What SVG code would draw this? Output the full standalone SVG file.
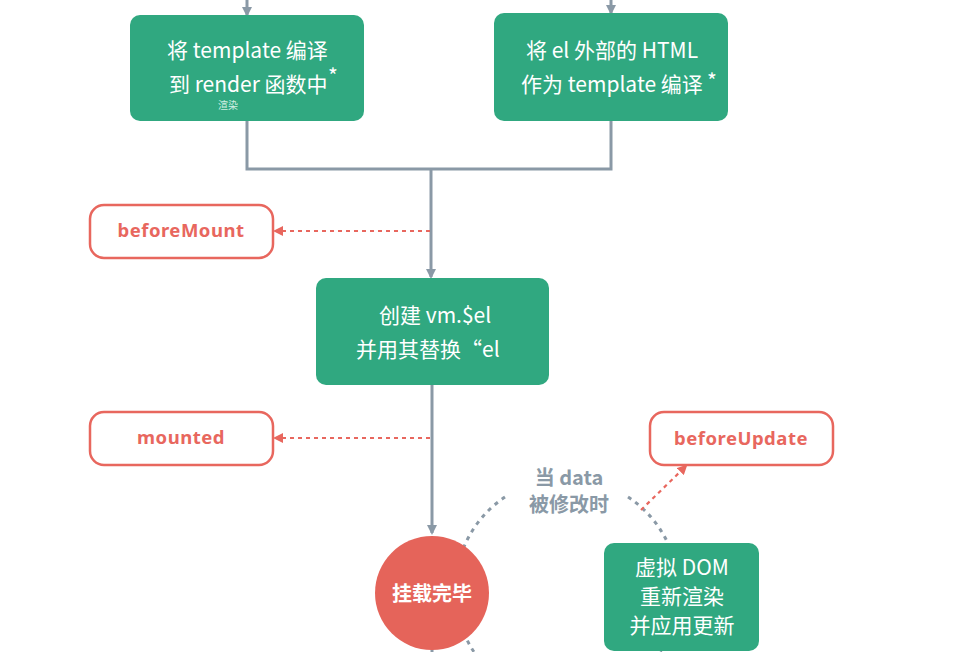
<svg xmlns="http://www.w3.org/2000/svg" width="976" height="652" viewBox="0 0 976 652">
<defs>
<style>
.g{fill:#30a880;}
.t{font-family:"Noto Sans CJK SC","Noto Sans",sans-serif;font-size:21px;fill:#ffffff;}
.hook{fill:#ffffff;stroke:#e8675e;stroke-width:2.5;}
.ht{font-family:"Noto Sans","Lato",sans-serif;font-weight:bold;font-size:18.5px;letter-spacing:0.5px;fill:#e8675e;text-anchor:middle;}
.line{fill:none;stroke:#8a99a6;stroke-width:3;}
.rd{fill:none;stroke:#e8675e;stroke-width:2.2;stroke-dasharray:4 4;}
.gd{fill:none;stroke:#8a99a6;stroke-width:3;stroke-dasharray:4 5;}
.lbl{font-family:"Noto Sans CJK SC","Noto Sans",sans-serif;font-weight:bold;font-size:20px;fill:#8a99a6;text-anchor:middle;}
</style>
<marker id="ag" markerWidth="10" markerHeight="10" refX="8" refY="5" orient="auto" markerUnits="userSpaceOnUse"><path d="M0,0 L10,5 L0,10 z" fill="#8a99a6"/></marker>
<marker id="ar" markerWidth="10" markerHeight="10" refX="8" refY="5" orient="auto" markerUnits="userSpaceOnUse"><path d="M0,0 L10,5 L0,10 z" fill="#e8675e"/></marker>
</defs>
<rect width="976" height="652" fill="#ffffff"/>
<g id="connectors">
<path class="gd" d="M505,497 A112,112 0 0 0 474,652"/>
<path class="gd" d="M628,497 A112,112 0 0 1 660,652"/>
<line class="line" x1="247" y1="0" x2="247" y2="15" marker-end="url(#ag)"/>
<line class="line" x1="611" y1="0" x2="611" y2="13" marker-end="url(#ag)"/>
<path class="line" d="M247,121 V169 H611 V121"/>
<line class="line" x1="431" y1="169" x2="431" y2="277" marker-end="url(#ag)"/>
<line class="rd" x1="430" y1="231" x2="275" y2="231" marker-end="url(#ar)"/>
<line class="line" x1="432" y1="385" x2="432" y2="533" marker-end="url(#ag)"/>
<line class="line" x1="432" y1="640" x2="432" y2="652"/>
<line class="rd" x1="430" y1="438" x2="275" y2="438" marker-end="url(#ar)"/>
<line class="rd" x1="641" y1="510" x2="686" y2="466" marker-end="url(#ar)"/>
</g>
<g id="compile-template">
<rect class="g" x="130" y="15" width="234" height="106" rx="10"/>
<text class="t" x="167" y="58">将 template 编译</text>
<text class="t" x="169" y="92">到 render 函数中</text>
<text class="t" x="328" y="84" font-size="13">*</text>
<text x="228" y="109" font-family="Noto Sans CJK SC,sans-serif" font-size="10" fill="#cfeee0" text-anchor="middle">渲染</text>
</g>
<g id="compile-outer-html">
<rect class="g" x="494" y="13" width="234" height="108" rx="10"/>
<text class="t" x="526" y="58">将 el 外部的 HTML</text>
<text class="t" x="521" y="92">作为 template 编译</text>
<text class="t" x="707" y="89" font-size="13">*</text>
</g>
<g id="beforeMount">
<rect class="hook" x="90" y="205" width="183" height="53" rx="14"/>
<text class="ht" x="181" y="237">beforeMount</text>
</g>
<g id="create-el">
<rect class="g" x="316" y="278" width="233" height="107" rx="10"/>
<text class="t" x="379" y="323">创建  vm.$el</text>
<text class="t" x="356" y="357">并用其替换“el</text>
</g>
<g id="mounted">
<rect class="hook" x="90" y="412" width="183" height="53" rx="14"/>
<text class="ht" x="181" y="444">mounted</text>
</g>
<g id="beforeUpdate">
<rect class="hook" x="650" y="412" width="183" height="53" rx="14"/>
<text class="ht" x="741" y="445">beforeUpdate</text>
</g>
<g id="data-changed">
<text class="lbl" x="569" y="485">当 data</text>
<text class="lbl" x="569" y="512">被修改时</text>
</g>
<g id="mounted-done">
<circle cx="432" cy="593" r="57" fill="#e5645a"/>
<text x="432" y="601" font-family="Noto Sans CJK SC,sans-serif" font-weight="bold" font-size="20" fill="#ffffff" text-anchor="middle">挂载完毕</text>
</g>
<g id="vdom-render">
<rect class="g" x="604" y="543" width="155" height="108" rx="10"/>
<text class="t" x="682" y="575" text-anchor="middle">虚拟 DOM</text>
<text class="t" x="682" y="604" text-anchor="middle">重新渲染</text>
<text class="t" x="682" y="633" text-anchor="middle">并应用更新</text>
</g>
</svg>
